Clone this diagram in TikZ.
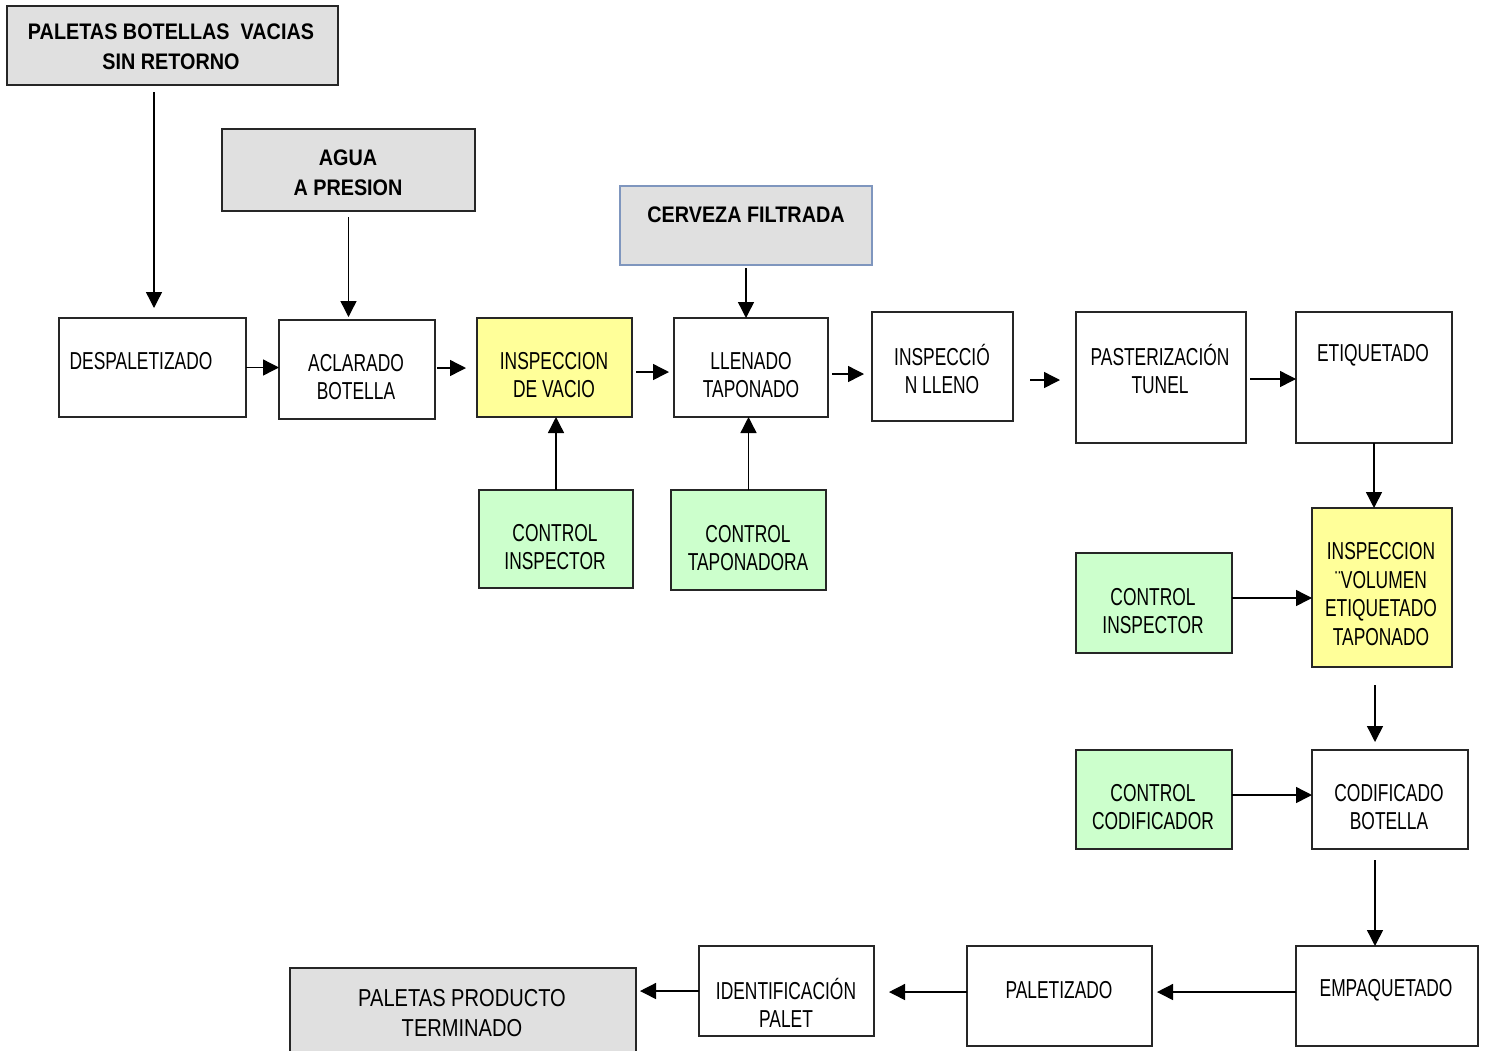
\documentclass[tikz,border=0pt]{standalone}
\usepackage{fontspec}
\setmainfont{Liberation Sans}[FakeStretch=0.71]
\newfontfamily\hdfont{Liberation Sans}[FakeStretch=0.88]
\newfontfamily\wdfont{Liberation Sans}[FakeStretch=0.82]
\usetikzlibrary{arrows.meta}
\definecolor{grayf}{HTML}{E0E0E0}
\definecolor{yellowf}{HTML}{FFFF99}
\definecolor{greenf}{HTML}{CCFFCC}
\definecolor{bluel}{HTML}{7F96BE}
\tikzset{
 box/.style={draw=black!85, line width=1.3pt, inner sep=0pt, outer sep=0pt},
 gbox/.style={box, fill=grayf},
 ybox/.style={box, fill=yellowf},
 grbox/.style={box, fill=greenf},
 txt/.style={align=center, inner sep=0pt, font=\fontsize{24.5}{28.5}\selectfont},
 wtxt/.style={align=center, inner sep=0pt, font=\wdfont\fontsize{24.5}{30}\selectfont},
 hd/.style={align=center, inner sep=0pt, font=\hdfont\bfseries\fontsize{22.5}{30}\selectfont},
 arr/.style={line width=1.4pt, -{Triangle[length=16pt,width=16pt]}}
}
\begin{document}
\begin{tikzpicture}[x=1pt,y=-1pt]
\useasboundingbox[fill=white] (0,0) rectangle (1487,1050);
% boxes
\node[gbox, minimum width=331pt, minimum height=79pt] (pal) at (172.5,45.5) {};
\node[gbox, minimum width=253pt, minimum height=82pt] (agua) at (348.5,170) {};
\node[gbox, draw=bluel, minimum width=252pt, minimum height=79pt] (cerv) at (746,225.5) {};
\node[box, minimum width=187pt, minimum height=99pt] (desp) at (152.5,367.5) {};
\node[box, minimum width=156pt, minimum height=99pt] (acl) at (357,369.5) {};
\node[ybox, minimum width=155pt, minimum height=99pt] (ivac) at (554.5,367.5) {};
\node[box, minimum width=154pt, minimum height=99pt] (llen) at (751,367.5) {};
\node[box, minimum width=141pt, minimum height=109pt] (ill) at (942.5,366.5) {};
\node[box, minimum width=170pt, minimum height=131pt] (past) at (1161,377.5) {};
\node[box, minimum width=156pt, minimum height=131pt] (etiq) at (1374,377.5) {};
\node[grbox, minimum width=154pt, minimum height=98pt] (ci1) at (556,539) {};
\node[grbox, minimum width=155pt, minimum height=100pt] (ctap) at (748.5,540) {};
\node[grbox, minimum width=156pt, minimum height=100pt] (ci2) at (1154,603) {};
\node[ybox, minimum width=140pt, minimum height=159pt] (ivol) at (1382,587.5) {};
\node[grbox, minimum width=156pt, minimum height=99pt] (ccod) at (1154,799.5) {};
\node[box, minimum width=156pt, minimum height=99pt] (cod) at (1390,799.5) {};
\node[box, minimum width=182pt, minimum height=100pt] (emp) at (1387,996) {};
\node[box, minimum width=185pt, minimum height=100pt] (paltz) at (1059.5,996) {};
\node[box, minimum width=175pt, minimum height=90pt] (ident) at (786.5,991) {};
\node[gbox, minimum width=346pt, minimum height=90pt] (pprod) at (463,1013) {};
% texts
\node[hd] (tpal) at (171,47) {PALETAS BOTELLAS\ \ VACIAS\\SIN RETORNO};
\node[hd] (tagua) at (348,173) {AGUA\\A PRESION};
\node[hd] (tcerv) at (746,215) {CERVEZA FILTRADA};
\node[txt] (tdesp) at (141,361) {DESPALETIZADO};
\node[txt] (tacl) at (356,377) {ACLARADO\\BOTELLA};
\node[txt] (tivac) at (554,375) {INSPECCION\\DE VACIO};
\node[txt] (tllen) at (751,375) {LLENADO\\TAPONADO};
\node[txt] (till) at (942,369) {INSPECCIÓ\\N LLENO};
\node[txt] (tpast) at (1160,369) {PASTERIZACIÓN\\TUNEL};
\node[txt] (tetiq) at (1373,355) {ETIQUETADO};
\node[txt] (tci1) at (555,547) {CONTROL\\INSPECTOR};
\node[txt] (tctap) at (748,548) {CONTROL\\TAPONADORA};
\node[txt] (tci2) at (1153,611) {CONTROL\\INSPECTOR};
\node[txt] (tivol) at (1381,594) {INSPECCION\\¨VOLUMEN\\ETIQUETADO\\TAPONADO};
\node[txt] (tccod) at (1153,807) {CONTROL\\CODIFICADOR};
\node[txt] (tcod) at (1389,807) {CODIFICADO\\BOTELLA};
\node[txt] (temp) at (1386,990) {EMPAQUETADO};
\node[txt] (tpaltz) at (1059,990) {PALETIZADO};
\node[txt] (tident) at (786,1003) {IDENTIFICACIÓN\\PALET};
\node[wtxt] (tpprod) at (462,1013) {PALETAS PRODUCTO\\TERMINADO};
% arrows
\draw[arr, shorten <=7pt, shorten >=10pt] ([xshift=1.5pt]desp.north |- pal.south) -- ([xshift=1.5pt]desp.north);
\draw[arr, shorten <=6pt, shorten >=3pt] (agua.south) -- (agua.south |- acl.north);
\draw[arr, shorten <=3pt] (cerv.south) -- (cerv.south |- llen.north);
\draw[arr] (desp.east) -- (desp.east -| acl.west);
\draw[arr, shorten <=2pt, shorten >=11pt] ([yshift=1.5pt]acl.east) -- ([yshift=1.5pt]acl.east -| ivac.west);
\draw[arr, shorten <=4pt, shorten >=5pt] ([yshift=-4.5pt]ivac.east) -- ([yshift=-4.5pt]ivac.east -| llen.west);
\draw[arr, shorten <=4pt, shorten >=8pt] ([yshift=-6.5pt]llen.east) -- ([yshift=-6.5pt]llen.east -| ill.west);
\draw[arr, shorten <=17pt, shorten >=16pt] ([yshift=-13.5pt]ill.east) -- ([yshift=-13.5pt]ill.east -| past.west);
\draw[arr, shorten <=4pt] ([yshift=-1.5pt]past.east) -- ([yshift=-1.5pt]past.east -| etiq.west);
\draw[arr] (etiq.south) -- (etiq.south |- ivol.north);
\draw[arr] (ci1.north) -- (ci1.north |- ivac.south);
\draw[arr] (ctap.north) -- (ctap.north |- llen.south);
\draw[arr] ([yshift=5pt]ci2.east) -- ([yshift=5pt]ci2.east -| ivol.west);
\draw[arr, shorten <=18pt, shorten >=8pt] ([xshift=-7pt]ivol.south) -- ([xshift=-7pt]ivol.south |- cod.north);
\draw[arr] ([yshift=4.5pt]ccod.east) -- ([yshift=4.5pt]ccod.east -| cod.west);
\draw[arr, shorten <=11pt] ([xshift=-15pt]cod.south) -- ([xshift=-15pt]cod.south |- emp.north);
\draw[arr, shorten >=5pt] ([yshift=4pt]emp.west) -- ([yshift=4pt]emp.west -| paltz.east);
\draw[arr, shorten >=15pt] ([yshift=4pt]paltz.west) -- ([yshift=4pt]paltz.west -| ident.east);
\draw[arr, shorten >=4pt] (ident.west) -- (ident.west -| pprod.east);
\end{tikzpicture}
\end{document}
